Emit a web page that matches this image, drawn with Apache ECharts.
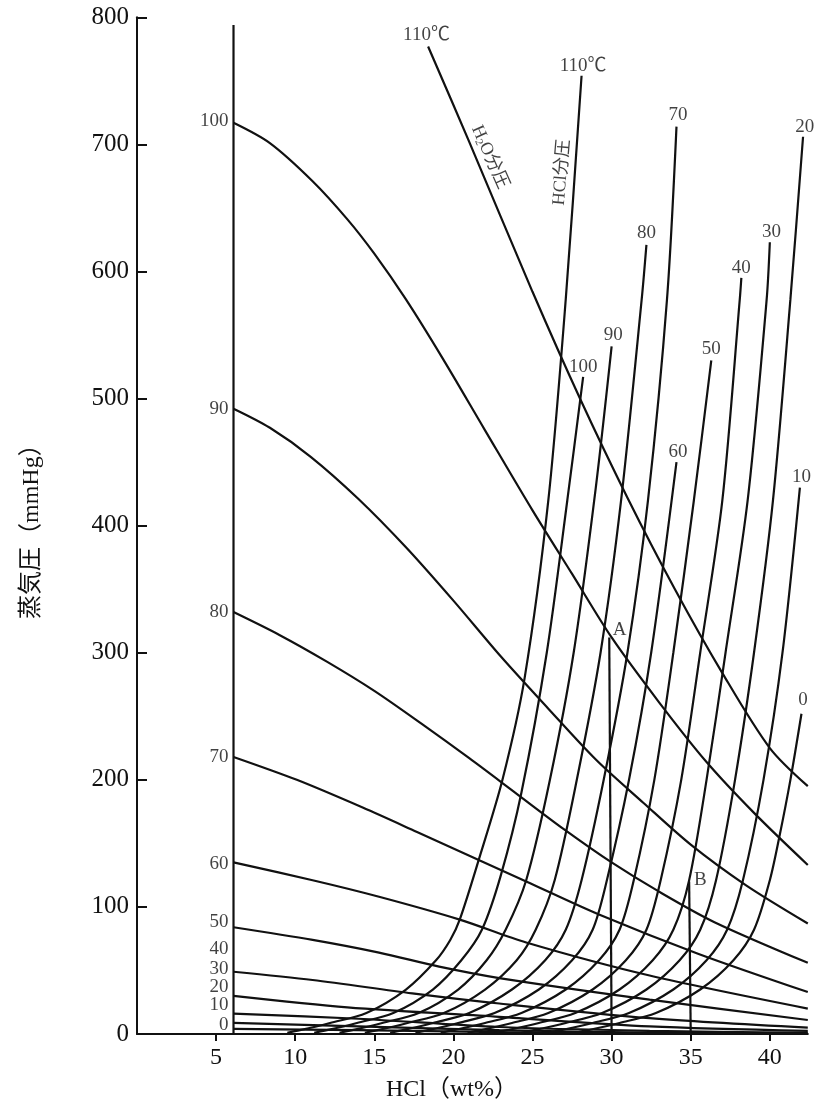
<!DOCTYPE html>
<html><head><meta charset="utf-8">
<script src="https://cdn.jsdelivr.net/npm/echarts@6/dist/echarts.min.js"></script>
<style>html,body{margin:0;padding:0;background:#fff}#c{width:818px;height:1113px}</style>
</head><body><div id="c"></div>
<script>
// Tick labels
const xTicks = [5, 10, 15, 20, 25, 30, 35, 40];
const yTicks = [0, 100, 200, 300, 400, 500, 600, 700, 800];

// H2O partial pressure curves (temperature °C), [HCl wt%, mmHg]
const h2o110 = [[18.4,777],[21,702],[25,584],[28,500],[31,422],[34,350],[37,284],[40,225],[42.4,195]];
const h2o100 = [[6.1,717],[8.4,701],[11.1,671],[13.3,641],[15,614],[17,578],[19.3,532],[22,475],[25,412],[27.5,362],[30,312],[33,261],[36,214],[39,174],[42.4,133]];
const h2o90 = [[6.1,492],[8.4,477],[11,454],[14,421],[17,383],[20,341],[23,297],[26,256],[29,216],[32,182],[35,149],[38.5,117],[42.4,87]];
const h2o80 = [[6.1,332],[9,314],[12,293],[15,270],[18,244],[21,217],[24,189],[27,161],[30,135],[33,112],[36.5,88],[42.4,56]];
const h2o70 = [[6.1,218],[10.1,200],[14.3,178],[17.7,159],[21.6,137],[24.6,120],[29.2,94],[35.5,63],[42.4,33]];
const h2o60 = [[6.1,135],[11.1,121],[15.3,108],[20.4,90],[24.6,72],[32.4,46],[42.4,20]];
const h2o50 = [[6.1,84],[11.1,74],[15.3,64],[19.1,53],[22.9,44],[32.4,27],[42.4,11]];
const h2o40 = [[6.1,49],[11.1,42.5],[17.4,32],[22.9,24],[32.4,12.5],[42.4,5]];
const h2o30 = [[6.1,30],[13.3,21],[22.9,13.5],[32.4,6],[42.4,2.5]];
const h2o20 = [[6.1,16],[14.0,12],[22.9,5.5],[32.4,2.5],[42.4,1]];
const h2o10 = [[6.1,8.7],[14.0,6],[22.9,3],[32.4,1.2],[42.4,0.4]];
const h2o0 = [[6.1,4],[14.0,3],[22.9,1.5],[32.4,0.5],[42.4,0.2]];

// HCl partial pressure curves (temperature °C), [HCl wt%, mmHg]
const hcl110 = [[9.5,1],[10.3,3],[12.2,8.7],[14.5,16.5],[17.0,35],[18.9,58],[19.8,74],[20.4,90],[21.6,137],[23.1,200],[24.5,280],[26.0,420],[27.1,578],[28.1,754]];
const hcl100 = [[11.2,1],[12.0,3],[13.9,8.7],[16.2,16.5],[18.7,35],[20.5,58],[21.8,82],[23.0,125],[24.3,190],[25.9,300],[27.2,420],[28.2,517]];
const hcl90 = [[12.8,1],[13.6,3],[15.5,8.7],[17.8,16.5],[20.3,35],[22.1,58],[23.3,82],[24.6,121],[26.1,200],[27.6,300],[29.0,430],[30.0,541]];
const hcl80 = [[14.4,1],[15.2,3],[17.1,8.7],[19.4,16.5],[22.0,35],[24.0,58],[25.2,82],[26.4,121],[27.8,200],[29.3,300],[30.6,420],[31.9,578],[32.2,621]];
const hcl70 = [[16.0,1],[16.8,3],[18.7,8.7],[21.0,16.5],[23.7,35],[25.8,58],[27.1,82],[28.1,121],[29.5,200],[31.0,300],[32.3,420],[33.5,578],[34.1,714]];
const hcl60 = [[17.6,1],[18.4,3],[20.3,8.7],[22.6,16.5],[25.4,35],[27.5,58],[28.8,82],[29.7,121],[31.1,200],[32.5,300],[34.1,450]];
const hcl50 = [[19.2,1],[20.0,3],[22.0,8.7],[24.3,16.5],[27.1,35],[29.2,58],[30.5,82],[31.4,121],[32.7,200],[33.9,300],[35.2,420],[36.3,530]];
const hcl40 = [[20.9,1],[21.7,3],[23.7,8.7],[26.0,16.5],[28.8,35],[30.9,58],[32.2,82],[33.1,121],[34.4,200],[35.6,300],[37.0,420],[38.1,578],[38.2,595]];
const hcl30 = [[22.6,1],[23.4,3],[25.4,8.7],[27.7,16.5],[30.5,35],[32.6,58],[33.9,82],[34.9,121],[36.0,200],[37.2,300],[38.6,420],[39.8,578],[40.0,623]];
const hcl20 = [[24.3,1],[25.1,3],[27.1,8.7],[29.4,16.5],[32.2,35],[34.3,58],[35.6,82],[36.6,121],[37.8,200],[39.0,300],[40.2,420],[41.3,578],[42.1,706]];
const hcl10 = [[26.0,1],[26.8,3],[28.8,8.7],[31.1,16.5],[33.9,35],[36.0,58],[37.3,82],[38.3,121],[39.6,200],[40.8,300],[41.9,430]];
const hcl0 = [[27.7,1],[28.5,3],[30.5,8.7],[32.8,16.5],[35.6,35],[37.7,58],[39.0,82],[40.0,121],[40.6,155],[41.3,200],[42.0,252]];

// Reference lines
const line6 = [[6.1,0],[6.1,794]];
const lineA = [[29.85,312],[30.0,0]];
const lineB = [[34.9,120],[35.0,0]];

// Labels: [x, y, text]
const leftLabels = [[6.1,718,'100'],[6.1,492,'90'],[6.1,332,'80'],[6.1,218,'70'],[6.1,134,'60'],[6.1,88,'50'],[6.1,67,'40'],[6.1,51,'30'],[6.1,37,'20'],[6.1,23,'10'],[6.1,7,'0']];
const topLabels = [[18.3,786,'110℃'],[28.2,762,'110℃'],[28.2,525,'100'],[30.1,550,'90'],[32.2,630,'80'],[34.2,723,'70'],[34.2,458,'60'],[36.3,539,'50'],[38.2,603,'40'],[40.1,631,'30'],[42.2,714,'20'],[42.0,438,'10'],[42.1,263,'0'],[30.5,318,'A'],[35.6,121,'B']];
const h2oNameLabel = [[22.3,690,'H{s|2}O分圧']];
const hclNameLabel = [[26.85,678,'HCl分圧']];

const FONT = '"Liberation Serif","Noto Sans CJK JP",serif';
const curves = [h2o110,h2o100,h2o90,h2o80,h2o70,h2o60,h2o50,h2o40,h2o30,h2o20,h2o10,h2o0,
                hcl110,hcl100,hcl90,hcl80,hcl70,hcl60,hcl50,hcl40,hcl30,hcl20,hcl10,hcl0];
const series = curves.map(d => ({
  type:'line', data:d, showSymbol:false, smooth:0.3,
  lineStyle:{color:'#111', width:2.2}, silent:true
}));
[line6, lineA, lineB].forEach(d => series.push({
  type:'line', data:d, showSymbol:false, lineStyle:{color:'#111', width:2.2}, silent:true
}));
function labelSeries(data, pos, rotate, size) {
  return {
    type:'scatter', data:data, symbolSize:0, silent:true, clip:false,
    label:{show:true, position:pos, distance:5, rotate:rotate||0,
      formatter:p=>p.data[2], color:'#111', fontSize:size||19, fontFamily:FONT,
      rich:{s:{fontSize:11, fontFamily:FONT, color:'#111', padding:[8,0,0,0]}}}
  };
}
series.push(labelSeries(leftLabels,'left',0,19));
series.push(labelSeries(topLabels,'inside',0,19));
series.push(labelSeries(h2oNameLabel,'inside',-66,18));
series.push(labelSeries(hclNameLabel,'inside',85,18));

const chart = echarts.init(document.getElementById('c'), null, {renderer:'canvas'});
chart.setOption({
  animation:false,
  backgroundColor:'#fff',
  grid:{left:137, right:10.2, top:17.3, bottom:79, containLabel:false},
  xAxis:{
    type:'value', min:0, max:42.4, interval:5,
    axisLine:{show:true, onZero:false, lineStyle:{color:'#111', width:2}},
    axisTick:{show:true, length:7, customValues:xTicks, lineStyle:{color:'#111', width:2}},
    axisLabel:{customValues:xTicks, fontSize:24, margin:12, color:'#111', fontFamily:FONT},
    splitLine:{show:false}
  },
  yAxis:{
    type:'value', min:0, max:800, interval:100,
    name:'蒸気圧（mmHg）', nameLocation:'middle', nameGap:93, nameRotate:90,
    nameTextStyle:{fontSize:24, color:'#111', fontFamily:FONT},
    axisLine:{show:true, lineStyle:{color:'#111', width:2}},
    axisTick:{show:true, inside:true, length:10, customValues:yTicks, lineStyle:{color:'#111', width:2}},
    axisLabel:{customValues:yTicks, fontSize:25, margin:8, color:'#111', fontFamily:FONT},
    splitLine:{show:false}
  },
  graphic:[{type:'text', x:452, y:1090, style:{text:'HCl（wt%）', fontSize:24, fontFamily:FONT, fill:'#111', align:'center', verticalAlign:'middle'}}],
  series:series
});
</script></body></html>
